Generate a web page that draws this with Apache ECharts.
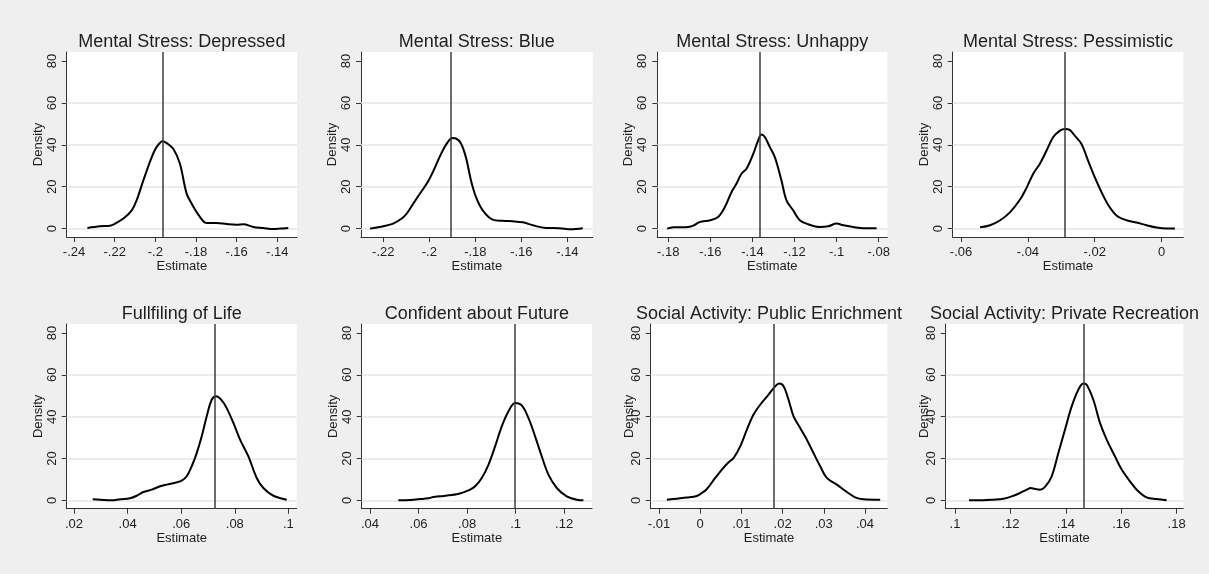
<!DOCTYPE html>
<html>
<head>
<meta charset="utf-8">
<script src="https://cdn.jsdelivr.net/npm/echarts@6.0.0/dist/echarts.min.js"></script>
<style>
  html, body { margin: 0; padding: 0; background: #efefef; }
  #chart { width: 1209px; height: 574px; }
</style>
</head>
<body>
<div id="chart"></div>
<script>
// ---- data ----
var titles = ['Mental Stress: Depressed', 'Mental Stress: Blue', 'Mental Stress: Unhappy', 'Mental Stress: Pessimistic',
  'Fullfiling of Life', 'Confident about Future', 'Social Activity: Public Enrichment', 'Social Activity: Private Recreation'];

// point estimate (vertical line) per panel
var estimates = [-0.1963, -0.1909, -0.1364, -0.029, 0.0726, 0.0995, 0.0179, 0.1466];

var xTicks = [
  [-0.24, -0.22, -0.2, -0.18, -0.16, -0.14],
  [-0.22, -0.2, -0.18, -0.16, -0.14],
  [-0.18, -0.16, -0.14, -0.12, -0.1, -0.08],
  [-0.06, -0.04, -0.02, 0],
  [0.02, 0.04, 0.06, 0.08, 0.1],
  [0.04, 0.06, 0.08, 0.1, 0.12],
  [-0.01, 0, 0.01, 0.02, 0.03, 0.04],
  [0.1, 0.12, 0.14, 0.16, 0.18]
];
var xMins = [-0.2436, -0.2297, -0.1852, -0.0625, 0.01726, 0.03656, -0.01202, 0.09663];
var xMaxs = [-0.1303, -0.129, -0.0759, 0.0065, 0.1031, 0.1315, 0.04542, 0.1824];

var yTicks = [0, 20, 40, 60, 80];
var gridLevels = [0, 20, 40, 60];

var depressedX = [-.2334,-.2272,-.2223,-.2198,-.2157,-.2116,-.2092,-.2059,-.2018,-.1993,-.1964,-.1944,-.1911,-.1879,-.1846,-.1821,-.1797,-.1764,-.1748,-.1698,-.1649,-.16,-.1567,-.1518,-.1469,-.142,-.1387,-.1346];
var depressedY = [0.3,1.1,1.4,2.4,4.8,8.7,13.5,23,34,39,41.7,40.8,38,31,16.7,11.9,7.9,3.5,2.7,2.7,2.2,1.9,2.1,0.8,0.3,-0.2,0,0.3];

var blueX = [-.2258,-.2229,-.22,-.2157,-.212,-.2099,-.207,-.2036,-.2007,-.1978,-.1949,-.192,-.1899,-.1884,-.1862,-.1841,-.1819,-.1797,-.1768,-.1725,-.1681,-.1638,-.1594,-.1551,-.1493,-.1435,-.1385,-.1333];
var blueY = [0,0.5,1.1,2.4,4.8,7.1,11.9,17.5,22.2,28.6,35.7,41.3,43.2,43,40.5,34,23,15,8.7,4.3,3.7,3.5,3,1.6,0.3,0.2,-0.3,0.2];

var unhappyX = [-.1805,-.1776,-.1705,-.1681,-.1649,-.16,-.1563,-.1531,-.1499,-.1476,-.1452,-.1428,-.1396,-.1373,-.1357,-.1341,-.1317,-.1293,-.1262,-.1238,-.1206,-.1175,-.1135,-.108,-.104,-.1,-.0968,-.0921,-.0873,-.081];
var unhappyY = [0,0.6,0.8,1.4,3.2,4,5.6,10.3,17.5,21.4,26.2,28.6,35.7,42,44.9,43.7,38.9,34,23,13.5,8.7,4,2.1,0.8,1.1,2.4,1.6,0.8,0.2,0.2];

var pessimisticX = [-.0543,-.0513,-.0483,-.0453,-.0423,-.0403,-.0384,-.0364,-.0344,-.0324,-.0304,-.0289,-.0275,-.026,-.024,-.022,-.02,-.018,-.016,-.0135,-.0105,-.0075,-.0045,-.0015,.0015,.004];
var pessimisticY = [0.6,1.6,4,7.9,14,19.8,26.2,31,37.3,43.7,46.8,47.6,47.1,44.4,40.5,32.5,24.6,17.5,11.4,6.3,4,2.9,1.6,0.5,0,0];

var fulfillX = [.02697,.0297,.03406,.03717,.0409,.04339,.04588,.04899,.0521,.05459,.05832,.06019,.06205,.06392,.06579,.06765,.06952,.07139,.073,.07512,.07698,.07947,.08196,.08507,.08818,.09067,.0944,.09938];
var fulfillY = [0.5,0.3,0,0.5,1,2.2,4,5.1,6.7,7.5,8.6,9.4,11.5,16.3,22.6,30.6,40.2,48.1,49.7,47.8,44.1,37,29,21,10.7,5.9,2.2,0.3];

var confidentX = [.05168,.0565,.06062,.06405,.06612,.06887,.0723,.07574,.07849,.08124,.0833,.08605,.0888,.09155,.0943,.09704,.09979,.10254,.10529,.10804,.11079,.11354,.11698,.1211,.12522,.12797];
var confidentY = [0,0.2,0.6,1,1.6,1.9,2.4,2.9,3.8,5.1,6.7,10.7,17,25.8,35.4,42.5,46.5,45.4,39.4,30.6,21,12.3,5.9,1.9,0.3,0];

var publicX = [-.00809,-.00566,-.00324,-.00081,.0004,.00162,.00364,.00526,.00688,.00809,.00971,.01133,.01294,.01456,.01659,.0182,.01917,.02023,.02144,.02265,.02427,.02589,.0275,.02913,.03074,.03317,.0356,.03762,.03964,.04369];
var publicY = [0.3,0.8,1.3,2.1,3.5,5.4,10.7,14.7,18.2,20.2,25.8,33.8,41,45.7,50.5,54.5,55.8,54.5,48.1,40.2,34.6,29,22.6,16.3,10.7,7.5,4,1.4,0.5,0.3];

var privateX = [.10505,.11023,.11383,.11744,.12045,.12346,.12586,.12731,.12887,.13068,.13248,.13489,.13729,.1397,.14211,.14451,.14632,.14752,.14992,.15233,.15474,.15774,.16015,.16316,.16556,.16917,.17278,.17639];
var privateY = [0,0,0.3,0.8,1.9,3.5,5.1,5.9,5.4,5.1,6.4,11.5,22.6,33.8,44.9,52.9,55.8,55.3,48.1,37,29,21,14.7,9.1,5.1,1.4,0.6,0];

var curvesX = [depressedX, blueX, unhappyX, pessimisticX, fulfillX, confidentX, publicX, privateX];
var curvesY = [depressedY, blueY, unhappyY, pessimisticY, fulfillY, confidentY, publicY, privateY];

// ---- layout (pixels) ----
var gridLeft = [66.7, 361, 657.3, 952.7, 66.7, 361.7, 650.7, 945.7];
var gridWidth = [230.3, 231.7, 230, 230.6, 230, 230.3, 236.6, 237.6];
var rowTop = [52, 324];
var rowHeight = [185, 184.7];
var titleTop = [33, 305];
var densityGap = [22, 22, 22, 22, 22, 22, 15, 15];

var FONT = '"Liberation Sans", Arial, sans-serif';
var TXT = '#1e1e1e';
var AXIS = '#333333';

function fmt(v) {
  return String(v).replace(/^(-?)0\./, '$1.');
}

var chart = echarts.init(document.getElementById('chart'));

var grids = [], xAxes = [], yAxes = [], series = [], titleList = [];

for (var i = 0; i < 8; i++) {
  var row = i < 4 ? 0 : 1;
  grids.push({
    left: gridLeft[i], top: rowTop[row], width: gridWidth[i], height: rowHeight[row],
    show: true, backgroundColor: '#ffffff', borderWidth: 0,
    containLabel: false, outerBoundsMode: 'none'
  });
  titleList.push({
    text: titles[i],
    left: gridLeft[i] + gridWidth[i] / 2,
    top: titleTop[row],
    textAlign: 'center',
    padding: 0,
    textStyle: { fontFamily: FONT, fontSize: 18, fontWeight: 'normal', color: TXT }
  });
  xAxes.push({
    type: 'value', gridIndex: i, min: xMins[i], max: xMaxs[i],
    name: 'Estimate', nameLocation: 'middle', nameGap: 23, nameMoveOverlap: false,
    nameTextStyle: { fontFamily: FONT, fontSize: 13, color: TXT },
    axisLine: { show: true, onZero: false, lineStyle: { color: AXIS, width: 1 } },
    axisTick: { show: true, inside: false, length: 5, customValues: xTicks[i], lineStyle: { color: AXIS } },
    axisLabel: { show: true, margin: 9, customValues: xTicks[i], formatter: fmt,
      fontFamily: FONT, fontSize: 13, color: TXT },
    splitLine: { show: false }
  });
  yAxes.push({
    type: 'value', gridIndex: i, min: -4, max: 84.3,
    name: 'Density', nameLocation: 'middle', nameGap: densityGap[i], nameRotate: 90,
    nameMoveOverlap: false,
    nameTextStyle: { fontFamily: FONT, fontSize: 13, color: TXT },
    axisLine: { show: true, onZero: false, lineStyle: { color: AXIS, width: 1 } },
    axisTick: { show: true, inside: false, length: 5, customValues: yTicks, lineStyle: { color: AXIS } },
    axisLabel: { show: true, margin: 8, rotate: 90, customValues: yTicks,
      fontFamily: FONT, fontSize: 13, color: TXT },
    splitLine: { show: false }
  });
  // light horizontal grid lines, kept under the curve
  series.push({
    type: 'line', xAxisIndex: i, yAxisIndex: i, data: [], silent: true, z: 1,
    markLine: {
      silent: true, symbol: 'none', animation: false, z: 1, precision: 6,
      label: { show: false },
      lineStyle: { color: '#e6e6e6', width: 1.5, type: 'solid' },
      data: gridLevels.map(function (v) { return { yAxis: v }; })
    }
  });
  // density curve
  var pts = curvesX[i].map(function (x, k) { return [x, curvesY[i][k]]; });
  series.push({
    type: 'line', xAxisIndex: i, yAxisIndex: i, data: pts,
    smooth: 0.35, showSymbol: false, z: 3, animation: false,
    lineStyle: { color: '#000000', width: 2 }
  });
  // point estimate
  series.push({
    type: 'line', xAxisIndex: i, yAxisIndex: i, data: [], silent: true, z: 4,
    markLine: {
      silent: true, symbol: 'none', animation: false, z: 4, precision: 6,
      label: { show: false },
      lineStyle: { color: '#3c3c3c', width: 1.5, type: 'solid' },
      data: [{ xAxis: estimates[i] }]
    }
  });
}

var option = {
  backgroundColor: '#efefef',
  animation: false,
  title: titleList,
  grid: grids,
  xAxis: xAxes,
  yAxis: yAxes,
  series: series
};
option && chart.setOption(option);
</script>
</body>
</html>
